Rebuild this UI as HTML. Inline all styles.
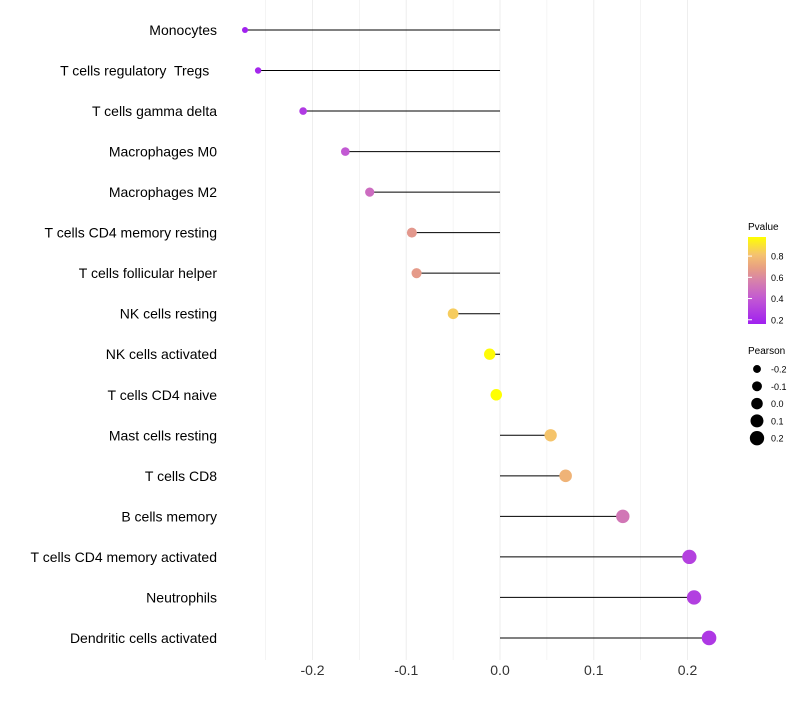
<!DOCTYPE html>
<html><head><meta charset="utf-8"><style>
body{margin:0;background:#fff;font-family:"Liberation Sans",sans-serif}
text{white-space:pre}
</style></head><body>
<svg id="chart" width="800" height="700" xmlns="http://www.w3.org/2000/svg">
<defs><linearGradient id="pg" x1="0" y1="1" x2="0" y2="0">
<stop offset="0" stop-color="rgb(160,32,240)"/><stop offset="0.3" stop-color="rgb(195,90,210)"/><stop offset="0.5" stop-color="rgb(215,130,170)"/><stop offset="0.65" stop-color="rgb(232,160,130)"/><stop offset="0.8" stop-color="rgb(245,195,110)"/><stop offset="1" stop-color="rgb(255,255,0)"/></linearGradient></defs>
<g id="grid"></g>
<g id="marks"></g>
<g id="labels"></g>
<g id="xticks"></g>
<g>
<text x="748" y="230" font-size="10" fill="#000">Pvalue</text>
<rect x="748" y="237" width="18" height="87" fill="url(#pg)"/>
<g id="cbticks"></g>
</g>
<g id="sizeleg">
<text x="748" y="354" font-size="10" fill="#000">Pearson</text>
</g>
</svg>
<script>
const categories=["Monocytes","T cells regulatory  Tregs  ","T cells gamma delta","Macrophages M0","Macrophages M2","T cells CD4 memory resting","T cells follicular helper","NK cells resting","NK cells activated","T cells CD4 naive","Mast cells resting","T cells CD8","B cells memory","T cells CD4 memory activated","Neutrophils","Dendritic cells activated"];
const pearson=[-0.272,-0.258,-0.210,-0.165,-0.139,-0.094,-0.089,-0.050,-0.011,-0.004,0.054,0.070,0.131,0.202,0.207,0.223];
const pvalue=[0.17,0.19,0.27,0.40,0.48,0.66,0.67,0.84,0.97,0.98,0.82,0.76,0.52,0.30,0.29,0.26];
const xTicks=[-0.2,-0.1,0.0,0.1,0.2];
const cbTicks=[0.2,0.4,0.6,0.8];
const sizeLegend=[-0.2,-0.1,0.0,0.1,0.2];
const NS="http://www.w3.org/2000/svg";
const X=v=>500+v*937.5;
const Y=i=>30+i*40.53;
const R=v=>Math.sqrt(Math.max(4,25+89*(v+0.094)));
const PMIN=0.16,PMAX=0.98;
const CB=p=>324-(p-PMIN)/(PMAX-PMIN)*87;
const stops=[[0,[160,32,240]],[0.3,[195,90,210]],[0.5,[215,130,170]],[0.65,[232,160,130]],[0.8,[245,195,110]],[1,[255,255,0]]];
function col(p){let t=Math.max(0,Math.min(1,(p-PMIN)/(PMAX-PMIN)));for(let k=1;k<stops.length;k++){if(t<=stops[k][0]){const a=stops[k-1],b=stops[k],f=(t-a[0])/(b[0]-a[0]);return 'rgb('+a[1].map((c,j)=>Math.round(c+(b[1][j]-c)*f)).join(',')+')';}}return 'rgb(255,255,0)';}
function mk(tag,at,parent){const e=document.createElementNS(NS,tag);for(const k in at)e.setAttribute(k,at[k]);document.getElementById(parent).appendChild(e);return e;}
for(let g=-0.25;g<=0.2251;g+=0.05){const l=mk('line',{x1:X(g),x2:X(g),y1:0,y2:660,stroke:'#eeeeee','stroke-width':Math.abs(Math.round(g*100))%10===0?1:0.6},'grid');

}
xTicks.forEach(v=>{const t=mk('text',{x:X(v),y:675,'font-size':14,fill:'#333','text-anchor':'middle'},'xticks');t.textContent=v.toFixed(1);

});
categories.forEach((c,i)=>{
const ln=mk('line',{x1:X(0),x2:X(pearson[i]),y1:Y(i),y2:Y(i),stroke:'#000','stroke-width':1},'marks');


const d=mk('circle',{cx:X(pearson[i]),cy:Y(i),r:R(pearson[i]),fill:col(pvalue[i])},'marks');


const t=mk('text',{x:217,y:Y(i)+5,'font-size':14,fill:'#000','text-anchor':'end'},'labels');t.textContent=c;

});
cbTicks.forEach(p=>{const y=CB(p);
const tl=mk('line',{x1:748,x2:752,y1:y,y2:y,stroke:'#fff'},'cbticks');


const t=mk('text',{x:771,y:y+3.5,'font-size':9,fill:'#000'},'cbticks');t.textContent=p.toFixed(1);

});
sizeLegend.forEach((v,k)=>{const y=369+k*17.3;
const c=mk('circle',{cx:757,cy:y,r:R(v),fill:'#000'},'sizeleg');


const t=mk('text',{x:771,y:y+3.5,'font-size':9,fill:'#000'},'sizeleg');t.textContent=v.toFixed(1);

});
</script>
</body></html>
